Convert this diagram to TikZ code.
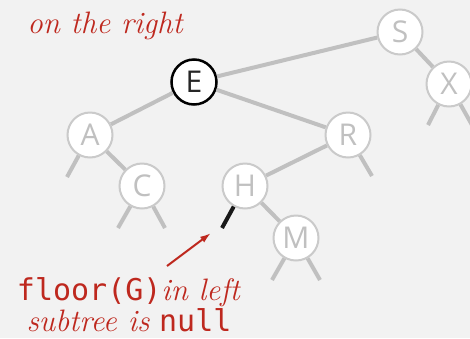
\documentclass[tikz,border=0pt]{standalone}
\usepackage{fontspec}
\setmonofont{DejaVu Sans Mono}
\newfontfamily\keyfont{Open Sans}
\usetikzlibrary{arrows.meta}
\definecolor{paper}{RGB}{242,242,242}
\definecolor{faded}{RGB}{192,192,192}
\definecolor{rim}{RGB}{202,202,202}
\definecolor{note}{RGB}{190,40,30}

\begin{document}
\begin{tikzpicture}[x=1pt,y=-1pt,
  key/.style={circle,draw=rim,line width=2pt,fill=white,minimum size=45pt,inner sep=0pt,text=faded,font=\keyfont\fontsize{30}{30}\selectfont},
  link/.style={draw=faded,line width=4pt},
  remark/.style={text=note,inner sep=0pt,font=\fontsize{31}{28}\selectfont}]
	\fill[paper] (0,0) rectangle (470,338);
	\useasboundingbox (0,0) rectangle (470,338);

	\node[key] (S) at (400,32) {S};
	\node[key] (X) at (449,84) {X};
	\node[key,draw=black,line width=2.5pt,text=black!85] (E) at (194,82) {E};
	\node[key] (A) at (90,135) {A};
	\node[key] (C) at (142,186) {C};
	\node[key] (R) at (348,135) {R};
	\node[key] (H) at (245,186) {H};
	\node[key] (M) at (296,238) {M};

	\coordinate (a0) at (67,177);
	\coordinate (c0) at (118,228);
	\coordinate (c1) at (165,228);
	\coordinate (h0) at (222,228);
	\coordinate (m0) at (272,280);
	\coordinate (m1) at (320,280);
	\coordinate (r1) at (372,176);
	\coordinate (x0) at (428,125);
	\coordinate (x1) at (472,125);

	\draw[link] (S) -- (E);
	\draw[link] (S) -- (X);
	\draw[link] (E) -- (A);
	\draw[link] (E) -- (R);
	\draw[link] (A) -- (C);
	\draw[link] (R) -- (H);
	\draw[link] (H) -- (M);
	\draw[link] (A) -- (a0);
	\draw[link] (C) -- (c0);
	\draw[link] (C) -- (c1);
	\draw[link] (R) -- (r1);
	\draw[link] (M) -- (m0);
	\draw[link] (M) -- (m1);
	\draw[link] (X) -- (x0);
	\draw[link] (X) -- (x1);
	\draw[link,draw=black!90] (H) -- (h0);

	\node[remark,anchor=base] (right) at (105,33) {\itshape on the right};
	\node[remark,anchor=base,align=center] (floor) at (129,331) {\texttt{\fontsize{30}{28}\selectfont floor(G)}\textit{in left}\\\textit{subtree is} \texttt{\fontsize{30}{28}\selectfont null}};

	\coordinate (tail) at (167,266);
	\coordinate (tip) at (211,233);
	\draw[draw=note,line width=2pt,-{Latex[length=11pt,width=7pt]}] (tail) -- (tip);
\end{tikzpicture}
\end{document}
